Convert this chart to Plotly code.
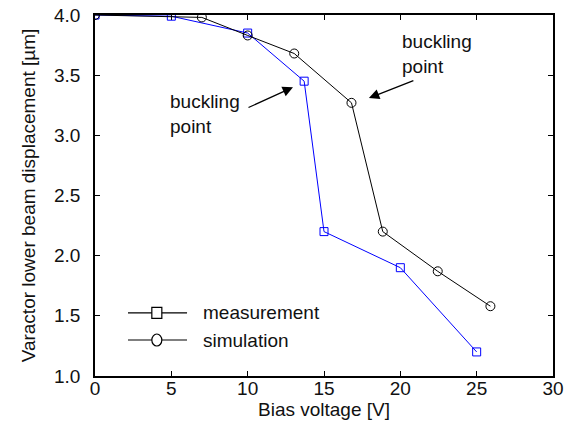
import plotly.graph_objects as go

# data
meas_x = [0, 5, 10, 13.7, 15, 20, 25]
meas_y = [4.0, 3.99, 3.85, 3.45, 2.20, 1.90, 1.20]
sim_x = [0, 7, 10, 13.05, 16.8, 18.85, 22.45, 25.9]
sim_y = [4.0, 3.98, 3.83, 3.68, 3.27, 2.20, 1.87, 1.58]
x_ticks = [0, 5, 10, 15, 20, 25, 30]
y_ticks = [1.0, 1.5, 2.0, 2.5, 3.0, 3.5, 4.0]
series_names = ["measurement", "simulation"]

FONT = "Liberation Sans"
FS = 19

fig = go.Figure()
fig.add_trace(go.Scatter(x=meas_x, y=meas_y, mode="lines+markers", name=series_names[0],
                         line=dict(color="#0000ff", width=1),
                         marker=dict(symbol="square-open", size=8, color="#0000ff", line=dict(width=1)),
                         showlegend=False))
fig.add_trace(go.Scatter(x=sim_x, y=sim_y, mode="lines+markers", name=series_names[1],
                         line=dict(color="black", width=1),
                         marker=dict(symbol="circle-open", size=9, color="black", line=dict(width=1)),
                         showlegend=False))

axis_common = dict(showgrid=False, zeroline=False, showline=True, linecolor="black", linewidth=1.5,
                   mirror="ticks", ticks="inside", ticklen=5, tickcolor="black", tickwidth=1,
                   automargin=False,
                   tickfont=dict(family=FONT, size=FS, color="#111111"))

fig.update_xaxes(range=[0, 30], tickvals=x_ticks, ticktext=[str(v) for v in x_ticks],
                 title=dict(text="Bias voltage [V]", font=dict(family=FONT, size=FS, color="#111111"), standoff=5),
                 ticklabelstandoff=-6, **axis_common)
fig.update_yaxes(range=[1.0, 4.0], tickvals=y_ticks, ticktext=[f"{v:.1f}" for v in y_ticks],
                 title=dict(text="Varactor lower beam displacement [µm]", font=dict(family=FONT, size=FS, color="#111111"), standoff=13),
                 ticklabelstandoff=9, **axis_common)

# annotations
fig.add_annotation(x=12.97, y=3.40, ax=-46, ay=21, axref="pixel", ayref="pixel", text="",
                   showarrow=True, arrowhead=2, arrowsize=1.6, arrowwidth=1.3, arrowcolor="black")
fig.add_annotation(x=17.94, y=3.31, ax=46, ay=-18, axref="pixel", ayref="pixel", text="",
                   showarrow=True, arrowhead=2, arrowsize=1.6, arrowwidth=1.3, arrowcolor="black")
fig.add_annotation(x=4.75, y=3.385, xanchor="left", yanchor="top", text="buckling<br>point", showarrow=False,
                   align="left", font=dict(family=FONT, size=FS, color="#111111"))
fig.add_annotation(x=19.95, y=3.88, xanchor="left", yanchor="top", text="buckling<br>point", showarrow=False,
                   align="left", font=dict(family=FONT, size=FS, color="#111111"))

# manual legend
leg_y = [0.175, 0.0997]
symbols = ["rect", "circle"]
for yy, sym, name in zip(leg_y, symbols, series_names):
    fig.add_shape(type="line", xref="paper", yref="paper", x0=0.072, x1=0.201, y0=yy, y1=yy,
                  line=dict(color="black", width=1.2))
    dx = 5 / 458
    dy = 5.5 / 361 if sym == "rect" else 6 / 361
    fig.add_shape(type=sym, xref="paper", yref="paper", x0=0.135 - dx, x1=0.135 + dx,
                  y0=yy - dy, y1=yy + dy, line=dict(color="black", width=1.2), fillcolor="white")
    fig.add_annotation(xref="paper", yref="paper", x=0.232, y=yy, xanchor="left", yanchor="middle",
                       text=name, showarrow=False, font=dict(family=FONT, size=FS, color="#111111"))

fig.update_layout(width=581, height=426, margin=dict(l=95, r=28, t=15, b=50, autoexpand=False),
                  plot_bgcolor="white", paper_bgcolor="white", showlegend=False,
                  font=dict(family=FONT, size=FS, color="#111111"))
fig.write_html("out.html")
